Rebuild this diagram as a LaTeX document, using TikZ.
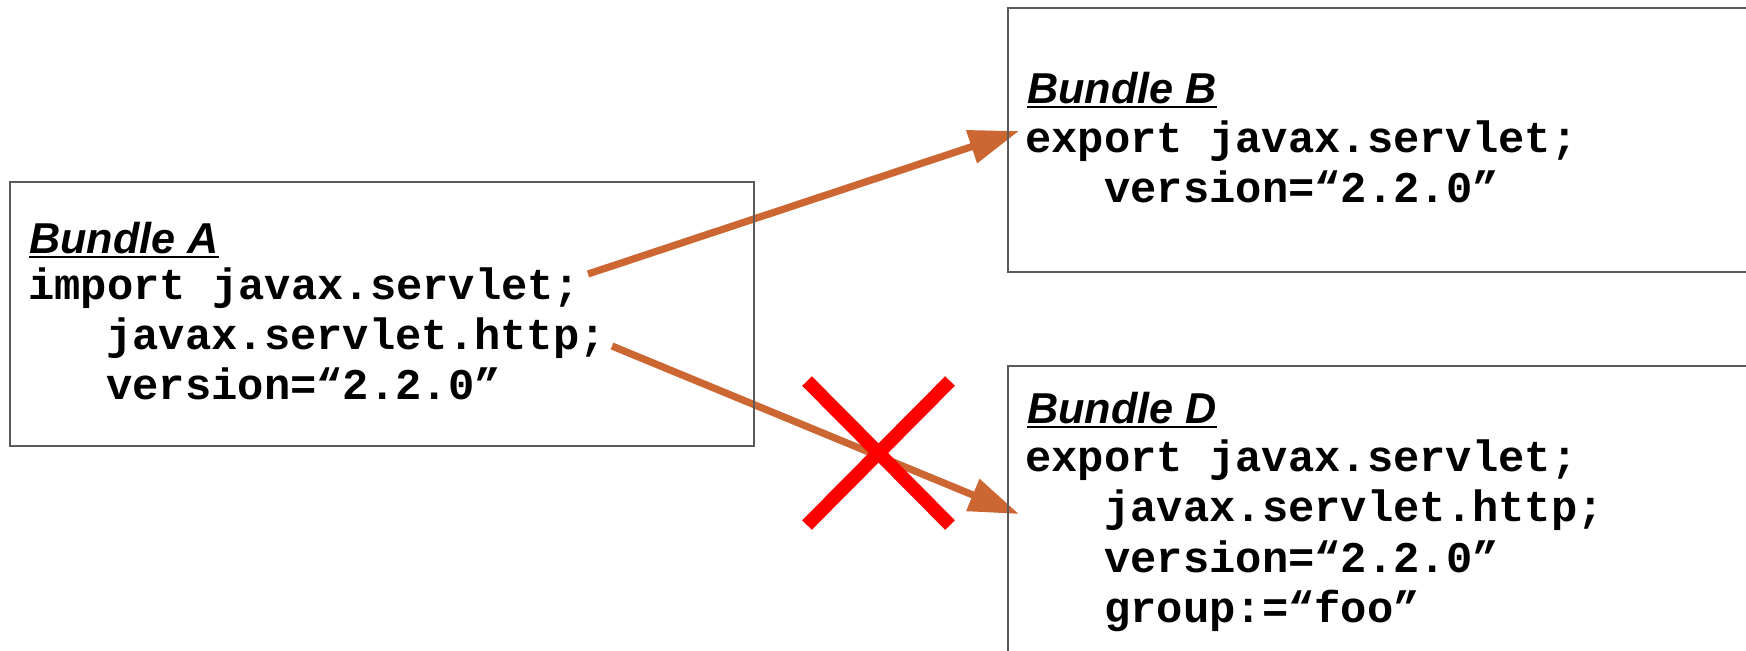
\documentclass[tikz,border=0pt]{standalone}
\usepackage{fontspec}
\setmainfont{Liberation Sans}
\setsansfont{Liberation Sans}
\setmonofont{Liberation Mono}
\usetikzlibrary{arrows.meta}
\definecolor{arrowc}{HTML}{CC6633}
\definecolor{boxc}{HTML}{5A5A5A}
\definecolor{crossc}{HTML}{FF0000}
\tikzset{
  bundlebox/.style={draw=boxc, line width=0.75pt, rectangle, inner sep=0pt, anchor=north west},
  title/.style={font=\fontsize{21.6pt}{25pt}\selectfont\sffamily\bfseries\itshape, inner sep=0pt, anchor=base west},
  code/.style={font=\fontsize{21.9pt}{25pt}\selectfont\ttfamily\bfseries, inner sep=0pt, anchor=base west},
  uline/.style={line width=1.3pt, black},
  dep/.style={draw=arrowc, line width=3.6pt, -{Triangle[length=25pt,width=16.5pt]}},
  cross/.style={draw=crossc, line width=6.8pt},
}
\begin{document}
\begin{tikzpicture}[x=0.5pt,y=-0.5pt]
\useasboundingbox (0,0) rectangle (1746,650);

% connector end points
\coordinate (a1s) at (588,274);
\coordinate (a1e) at (1019,131);
\coordinate (a2s) at (612,346);
\coordinate (a2e) at (1019,514);
\draw[dep] (a1s) -- (a1e);
\draw[dep] (a2s) -- (a2e);

% boxes
\node[bundlebox, minimum width=372pt, minimum height=132pt] (boxA) at (9,181) {};
\node[bundlebox, minimum width=400pt, minimum height=132pt] (boxB) at (1007,7) {};
\node[bundlebox, minimum width=400pt, minimum height=170pt] (boxD) at (1007,365) {};

% Bundle A
\node[title] (tA) at (29,253) {Bundle A};
\draw[uline] ([yshift=-2pt]tA.base west) -- ([yshift=-2pt]tA.base east);
\node[code] (cA1) at (28,299) {import javax.servlet;};
\node[code] (cA2) at (106,349) {javax.servlet.http;};
\node[code] (cA3) at (106,399) {version=“2.2.0”};

% Bundle B
\node[title] (tB) at (1027,103) {Bundle B};
\draw[uline] ([yshift=-2pt]tB.base west) -- ([yshift=-2pt]tB.base east);
\node[code] (cB1) at (1025,152) {export javax.servlet;};
\node[code] (cB2) at (1104,202) {version=“2.2.0”};

% Bundle D
\node[title] (tD) at (1027,423) {Bundle D};
\draw[uline] ([yshift=-2pt]tD.base west) -- ([yshift=-2pt]tD.base east);
\node[code] (cD1) at (1025,471) {export javax.servlet;};
\node[code] (cD2) at (1104,521) {javax.servlet.http;};
\node[code] (cD3) at (1104,572) {version=“2.2.0”};
\node[code] (cD4) at (1104,622) {group:=“foo”};

% red cross
\coordinate (x1) at (807,381);
\coordinate (x2) at (950,525);
\coordinate (x3) at (950,381);
\coordinate (x4) at (807,525);
\draw[cross] (x1) -- (x2);
\draw[cross] (x3) -- (x4);
\end{tikzpicture}
\end{document}
